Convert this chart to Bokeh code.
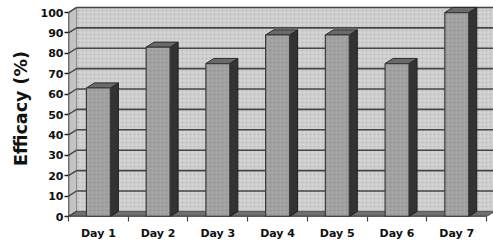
from bokeh.plotting import figure
from bokeh.models import FixedTicker, ColumnDataSource, Range1d
from bokeh.embed import file_html
from bokeh.resources import INLINE

# ---- data ----
days = ["Day 1", "Day 2", "Day 3", "Day 4", "Day 5", "Day 6", "Day 7"]
efficacy = [63, 83, 75, 89, 89, 75, 100]
y_ticks = [0, 10, 20, 30, 40, 50, 60, 70, 80, 90, 100]

# ---- 3D styling parameters ----
DX = 0.135   # depth offset in category units
DY = 2.5     # depth offset in value units
W = 0.40     # bar width
XMIN, XMAX = 0.5, len(days) + 0.5
YMAX = y_ticks[-1]

xpos = list(range(1, len(days) + 1))

p = figure(width=493, height=246,
           x_range=Range1d(XMIN, 7.615), y_range=Range1d(0, 105.9),
           output_backend="svg", toolbar_location=None,
           min_border_left=68, min_border_right=0,
           min_border_top=0, min_border_bottom=30)
p.outline_line_color = None
p.xgrid.visible = False
p.ygrid.visible = False
p.background_fill_color = "white"

# back wall
p.quad(left=[XMIN + DX], right=[XMAX + DX], bottom=[DY], top=[YMAX + DY],
       fill_color="#d2d2d2", line_color="#9a9a9a", line_width=1,
       hatch_pattern="dot", hatch_color="#8c8c8c", hatch_alpha=0.35, hatch_scale=4)
# left side wall
p.patch([XMIN, XMIN + DX, XMIN + DX, XMIN], [0, DY, YMAX + DY, YMAX],
        fill_color="#c4c4c4", line_color="#8a8a8a", line_width=1)
# floor
p.patch([XMIN, XMAX, XMAX + DX, XMIN + DX], [0, 0, DY, DY],
        fill_color="#6e6e6e", line_color="#555555", line_width=1)

# gridlines on back wall and side wall
gl = [v for v in y_ticks if v > 0]
p.segment(x0=[XMIN + DX] * len(gl), y0=[v + DY for v in gl],
          x1=[XMAX + DX] * len(gl), y1=[v + DY for v in gl],
          line_color="#454545", line_width=1.6)
p.segment(x0=[XMIN] * len(y_ticks), y0=y_ticks,
          x1=[XMIN + DX] * len(y_ticks), y1=[v + DY for v in y_ticks],
          line_color="#454545", line_width=1.4)

# bars: front, side, top
src = ColumnDataSource(dict(
    left=[x - W / 2 for x in xpos], right=[x + W / 2 for x in xpos],
    top=efficacy, bottom=[0] * len(xpos)))
side_xs = [[x + W / 2, x + W / 2 + DX, x + W / 2 + DX, x + W / 2] for x in xpos]
side_ys = [[0, DY, v + DY, v] for v in efficacy]
top_xs = [[x - W / 2, x + W / 2, x + W / 2 + DX, x - W / 2 + DX] for x in xpos]
top_ys = [[v, v, v + DY, v + DY] for v in efficacy]

p.patches(side_xs, side_ys, fill_color="#333333", line_color="#1e1e1e", line_width=1)
p.patches(top_xs, top_ys, fill_color="#6a6a6a", line_color="#2a2a2a", line_width=1)
p.quad(left="left", right="right", top="top", bottom="bottom", source=src,
       fill_color="#a4a4a4", line_color="#3a3a3a", line_width=1.2,
       hatch_pattern="dot", hatch_color="#6a6a6a", hatch_alpha=0.3, hatch_scale=4)

# axis lines
p.segment(x0=[XMIN], y0=[0], x1=[XMIN], y1=[YMAX], line_color="#222222", line_width=1.5)
p.segment(x0=[XMIN], y0=[0], x1=[XMAX], y1=[0], line_color="#222222", line_width=1.5)

# y axis
ya = p.yaxis[0]
ya.ticker = FixedTicker(ticks=y_ticks)
ya.axis_line_color = None
ya.major_tick_in = 0
ya.major_tick_out = 4
ya.major_tick_line_color = "#222222"
ya.major_tick_line_width = 1.5
ya.minor_tick_line_color = None
ya.major_label_standoff = 1
ya.major_label_text_font = "DejaVu Sans"
ya.major_label_text_font_style = "bold"
ya.major_label_text_font_size = "11px"
ya.major_label_text_color = "#111111"
ya.axis_label = "Efficacy (%)"
ya.axis_label_text_font = "DejaVu Sans"
ya.axis_label_text_font_style = "bold"
ya.axis_label_text_font_size = "17.5px"
ya.axis_label_text_color = "#111111"
ya.axis_label_standoff = 7

# x axis
xa = p.xaxis[0]
xa.ticker = FixedTicker(ticks=xpos, minor_ticks=[x - 0.5 for x in xpos] + [XMAX])
xa.major_label_overrides = {x: d for x, d in zip(xpos, days)}
xa.axis_line_color = None
xa.major_tick_line_color = None
xa.minor_tick_in = 0
xa.minor_tick_out = 5
xa.minor_tick_line_color = "#444444"
xa.minor_tick_line_width = 1.2
xa.major_label_standoff = 4
xa.major_label_text_font = "DejaVu Sans"
xa.major_label_text_font_style = "bold"
xa.major_label_text_font_size = "11px"
xa.major_label_text_color = "#111111"

open("out.html", "w").write(file_html(p, INLINE))
